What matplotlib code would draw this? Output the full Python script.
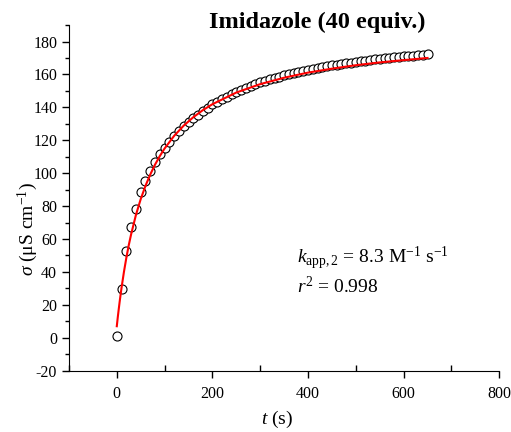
import matplotlib
matplotlib.use("Agg")
import matplotlib.pyplot as plt
from matplotlib.ticker import MultipleLocator

plt.rcParams['font.family'] = 'Liberation Serif'
plt.rcParams['mathtext.fontset'] = 'custom'
plt.rcParams['mathtext.rm'] = 'Liberation Serif'
plt.rcParams['mathtext.it'] = 'Liberation Serif:italic'
plt.rcParams['axes.unicode_minus'] = False

# measured conductivity (every 10 s)
t_data = list(range(0, 660, 10))
sigma_data = [1, 29.5, 52.5, 67, 78.5, 88.5, 95, 101.5, 107, 111.5,
              115.5, 119, 122.5, 125.5, 128.5, 131, 133.5, 135.5, 137.7, 139.7,
              141.8, 143.4, 145, 146.5, 148, 149.4, 150.6, 151.9, 153, 154.1,
              155.1, 156.1, 157, 157.9, 158.7, 159.5, 160.2, 160.9, 161.6, 162.2,
              162.8, 163.4, 164, 164.5, 165, 165.5, 166, 166.4, 166.8, 167.2,
              167.6, 168, 168.4, 168.8, 169.1, 169.4, 169.7, 170, 170.3, 170.6,
              170.9, 171.2, 171.4, 171.6, 171.9, 172.2]

# fitted curve
t_fit = [0, 2, 4, 6, 8, 10, 15, 20, 25, 30, 40, 50, 60, 70, 80, 90, 100,
         120, 140, 160, 180, 200, 250, 300, 350, 400, 450, 500, 550, 600, 650]
sigma_fit = [7, 12.3, 17.2, 21.9, 26.3, 30.5, 40.1, 48.6, 56.2, 62.9, 74.6,
             84.2, 92.3, 99.2, 105.2, 110.4, 115, 122.7, 128.9, 134.0, 138.3,
             141.9, 149.0, 154.1, 158.0, 161.1, 163.5, 165.6, 167.3, 168.7, 170.0]

fig = plt.figure(figsize=(5.11, 4.32), dpi=100)
ax = fig.add_axes([0.135, 0.142, 0.842, 0.8])

ax.plot(t_data, sigma_data, 'o', mfc='white', mec='black', ms=6.5, mew=0.8, zorder=2)
ax.plot(t_fit, sigma_fit, '-', color='red', lw=1.5, zorder=3)

ax.set_xlim(-100, 800)
ax.set_ylim(-20, 190)
ax.xaxis.set_major_locator(MultipleLocator(200))
ax.xaxis.set_minor_locator(MultipleLocator(100))
ax.yaxis.set_minor_locator(MultipleLocator(10))
ax.set_yticks(range(-20, 181, 20))

for s in ['top', 'right']:
    ax.spines[s].set_visible(False)
ax.tick_params(axis='both', which='major', direction='out', length=5, width=1, labelsize=11.5)
ax.tick_params(axis='x', which='minor', direction='in', length=4, width=1)
ax.tick_params(axis='y', which='minor', direction='out', length=3, width=1)
ax.tick_params(axis='x', which='major', pad=6)

fig.text(0.542, 0.028, r'$t$ (s)', fontsize=14, ha='center', va='center')
fig.text(0.055, 0.47, r'$\sigma$ (μS cm$^{\mathregular{-1}}$)', fontsize=14,
         ha='center', va='center', rotation=90)

fig.text(0.62, 0.947, 'Imidazole (40 equiv.)', fontsize=17.5, fontweight='bold', ha='center', va='center')

ax.text(0.53, 0.31, r'$k_{\mathregular{app,2}}$ = 8.3 M$^{\mathregular{-1}}$ s$^{\mathregular{-1}}$',
        transform=ax.transAxes, fontsize=14)
ax.text(0.53, 0.225, r'$r^{\mathregular{2}}$ = 0.998', transform=ax.transAxes, fontsize=14)

fig.savefig('out.png', dpi=100)
